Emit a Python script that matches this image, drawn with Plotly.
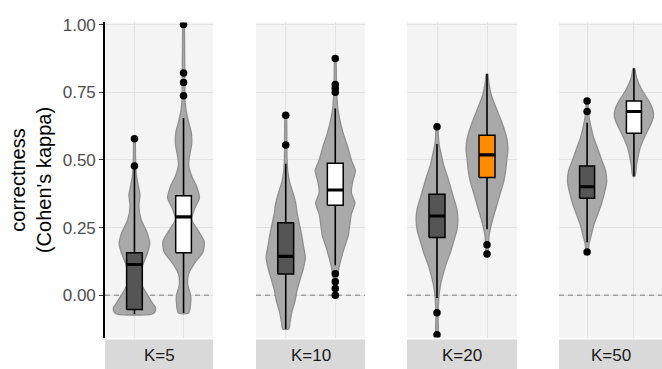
import plotly.graph_objects as go

# ---- data -------------------------------------------------------------
panels = ["K=5", "K=10", "K=20", "K=50"]
groups = [1, 2]  # two methods per panel

# box statistics per panel: [group 1, group 2]
lower_whisker = [[-0.069, -0.065], [-0.124, 0.111], [-0.010, 0.244], [0.196, 0.440]]
q1 = [[-0.052, 0.157], [0.079, 0.333], [0.214, 0.435], [0.359, 0.599]]
median = [[0.114, 0.290], [0.144, 0.389], [0.293, 0.519], [0.401, 0.679]]
q3 = [[0.157, 0.368], [0.268, 0.488], [0.373, 0.591], [0.478, 0.718]]
upper_whisker = [[0.470, 0.655], [0.486, 0.690], [0.559, 0.818], [0.637, 0.839]]
outliers = [
    [[0.578, 0.478], [1.0, 0.821, 0.786, 0.737]],
    [[0.665, 0.555], [0.875, 0.779, 0.764, 0.750, 0.080, 0.050, 0.025, 0.0]],
    [[0.623, -0.064, -0.145], [0.187, 0.153]],
    [[0.718, 0.679, 0.160], []],
]

# violin outlines: kappa levels and relative density at each level
violin_y = [
    [
        [0.578, 0.50, 0.45, 0.41, 0.37, 0.33, 0.28, 0.23, 0.19, 0.15, 0.11, 0.07, 0.04, 0.0, -0.03, -0.045, -0.06, -0.069],
        [1.0, 0.9, 0.8, 0.72, 0.68, 0.64, 0.60, 0.56, 0.52, 0.48, 0.44, 0.40, 0.36, 0.32, 0.28, 0.24, 0.20, 0.16, 0.12, 0.08, 0.04, 0.0, -0.03, -0.065],
    ],
    [
        [0.665, 0.60, 0.55, 0.50, 0.46, 0.42, 0.38, 0.34, 0.30, 0.26, 0.22, 0.18, 0.14, 0.10, 0.06, 0.02, -0.02, -0.06, -0.10, -0.124],
        [0.875, 0.80, 0.75, 0.70, 0.65, 0.60, 0.55, 0.50, 0.46, 0.42, 0.38, 0.34, 0.30, 0.26, 0.22, 0.18, 0.14, 0.10, 0.06, 0.02, 0.0],
    ],
    [
        [0.623, 0.56, 0.52, 0.48, 0.44, 0.40, 0.36, 0.32, 0.28, 0.24, 0.20, 0.16, 0.12, 0.08, 0.04, 0.0, -0.04, -0.08, -0.145],
        [0.818, 0.78, 0.74, 0.70, 0.66, 0.62, 0.58, 0.54, 0.50, 0.46, 0.42, 0.38, 0.34, 0.30, 0.26, 0.22, 0.18, 0.153],
    ],
    [
        [0.718, 0.66, 0.62, 0.58, 0.54, 0.50, 0.46, 0.42, 0.38, 0.34, 0.30, 0.26, 0.22, 0.19, 0.16],
        [0.839, 0.80, 0.76, 0.72, 0.69, 0.66, 0.63, 0.60, 0.57, 0.54, 0.51, 0.48, 0.44],
    ],
]
violin_density = [
    [
        [0.04, 0.05, 0.08, 0.16, 0.25, 0.20, 0.30, 0.58, 0.69, 0.56, 0.37, 0.28, 0.32, 0.60, 0.83, 0.95, 0.93, 0.79],
        [0.04, 0.05, 0.06, 0.07, 0.12, 0.23, 0.35, 0.37, 0.28, 0.23, 0.37, 0.60, 0.72, 0.50, 0.37, 0.65, 0.93, 0.88, 0.51, 0.23, 0.19, 0.32, 0.32, 0.23],
    ],
    [
        [0.04, 0.05, 0.05, 0.06, 0.09, 0.17, 0.32, 0.45, 0.52, 0.62, 0.72, 0.80, 0.88, 0.79, 0.65, 0.51, 0.42, 0.28, 0.19, 0.14],
        [0.04, 0.05, 0.07, 0.10, 0.20, 0.35, 0.55, 0.72, 0.90, 0.78, 0.72, 0.88, 0.72, 0.65, 0.58, 0.42, 0.28, 0.16, 0.09, 0.05, 0.04],
    ],
    [
        [0.04, 0.09, 0.19, 0.30, 0.46, 0.60, 0.74, 0.88, 0.93, 0.88, 0.74, 0.60, 0.42, 0.28, 0.16, 0.09, 0.06, 0.05, 0.04],
        [0.04, 0.09, 0.19, 0.37, 0.56, 0.74, 0.88, 0.93, 0.88, 0.83, 0.74, 0.60, 0.46, 0.32, 0.19, 0.09, 0.06, 0.04],
    ],
    [
        [0.04, 0.09, 0.19, 0.32, 0.51, 0.69, 0.88, 0.93, 0.83, 0.69, 0.51, 0.32, 0.19, 0.09, 0.04],
        [0.04, 0.14, 0.37, 0.69, 0.88, 0.93, 0.79, 0.60, 0.42, 0.28, 0.19, 0.12, 0.05],
    ],
]

y_ticks = [0.0, 0.25, 0.50, 0.75, 1.00]
y_tick_labels = ["0.00", "0.25", "0.50", "0.75", "1.00"]
box_fill = [["#555555", "#ffffff"], ["#555555", "#ffffff"], ["#555555", "#ff8c00"], ["#555555", "#ffffff"]]

# ---- styling ----------------------------------------------------------
W, H = 662, 369
VIOLIN_HALF = 0.45      # half of ggplot's default violin width
BOX_WIDTH = 0.32
panel_px = [(105, 213), (256, 365), (407, 517), (559, 662)]
panel_top_px, panel_bottom_px = 15.7, 337
strip_top_px = 339
FONT = "Liberation Sans, Arial, sans-serif"
PANEL_BG = "#f4f4f4"
GRID = "#e2e2e2"

fig = go.Figure()


def add(trace, xa, ya):
    trace.update(hoverinfo="skip", showlegend=False, xaxis=xa, yaxis=ya)
    fig.add_trace(trace)


for p, name in enumerate(panels):
    xa = "x" if p == 0 else f"x{p + 1}"
    ya = "y" if p == 0 else f"y{p + 1}"
    # dashed reference line at kappa = 0
    add(go.Scatter(x=[0.4, 2.6], y=[0, 0], mode="lines",
                   line=dict(color="#a0a0a0", width=1.5, dash="5px,4px")), xa, ya)
    for g, xpos in enumerate(groups):
        ys = violin_y[p][g]
        ds = violin_density[p][g]
        left = [xpos - d * VIOLIN_HALF for d in ds]
        right = [xpos + d * VIOLIN_HALF for d in ds]
        add(go.Scatter(
            x=left + right[::-1], y=ys + ys[::-1],
            mode="lines", fill="toself", fillcolor="#a9a9a9",
            line=dict(color="#8f8f8f", width=1.3, shape="spline", smoothing=0.7),
        ), xa, ya)
        # whiskers
        add(go.Scatter(
            x=[xpos, xpos, None, xpos, xpos],
            y=[lower_whisker[p][g], q1[p][g], None, q3[p][g], upper_whisker[p][g]],
            mode="lines", line=dict(color="#000000", width=1.6),
        ), xa, ya)
        # box from Q1 to Q3
        bl, br = xpos - BOX_WIDTH / 2, xpos + BOX_WIDTH / 2
        add(go.Scatter(
            x=[bl, br, br, bl, bl],
            y=[q1[p][g], q1[p][g], q3[p][g], q3[p][g], q1[p][g]],
            mode="lines", fill="toself", fillcolor=box_fill[p][g],
            line=dict(color="#000000", width=1.5),
        ), xa, ya)
        # median bar
        add(go.Scatter(
            x=[bl, br], y=[median[p][g], median[p][g]],
            mode="lines", line=dict(color="#000000", width=3.2),
        ), xa, ya)
        if outliers[p][g]:
            add(go.Scatter(
                x=[xpos] * len(outliers[p][g]), y=outliers[p][g],
                mode="markers", marker=dict(color="#000000", size=7.5),
            ), xa, ya)

y_dom = [(H - panel_bottom_px) / H, (H - panel_top_px) / H]
layout = dict(
    width=W, height=H, margin=dict(l=0, r=0, t=0, b=0),
    paper_bgcolor="#ffffff", plot_bgcolor=PANEL_BG,
    font=dict(family=FONT, color="#1a1a1a"),
    showlegend=False,
)
shapes = []
annotations = []
for p, name in enumerate(panels):
    x0, x1 = panel_px[p]
    dom = [x0 / W, min(x1 / W, 1.0)]
    key = "" if p == 0 else str(p + 1)
    layout["xaxis" + key] = dict(
        domain=dom, range=[0.4, 2.6], tickvals=groups, showticklabels=False,
        showgrid=True, gridcolor=GRID, gridwidth=1.3, zeroline=False, ticks="",
        anchor="y" + key, fixedrange=True,
    )
    ycfg = dict(
        domain=y_dom, range=[-0.156, 1.008], tickvals=y_ticks, ticktext=y_tick_labels,
        showgrid=True, gridcolor=GRID, gridwidth=1.3, zeroline=False,
        anchor="x" + key, fixedrange=True,
    )
    if p == 0:
        ycfg.update(
            showline=True, linecolor="#000000", linewidth=1.6,
            ticks="outside", ticklen=4, tickcolor="#333333", tickwidth=1.2,
            tickfont=dict(size=17, color="#4d4d4d", family=FONT),
            title=dict(text="correctness<br>(Cohen's kappa)", standoff=6,
                       font=dict(size=20, color="#000000", family=FONT)),
        )
    else:
        ycfg.update(showticklabels=False, ticks="", matches="y")
    layout["yaxis" + key] = ycfg

    # strip label box under each panel
    shapes.append(dict(
        type="rect", xref="paper", yref="paper", x0=dom[0], x1=dom[1],
        y0=-0.05, y1=(H - strip_top_px) / H,
        fillcolor="#d9d9d9", line=dict(width=0), layer="above",
    ))
    annotations.append(dict(
        text=name, xref="paper", yref="paper", x=(x0 + x1) / 2 / W, y=(H - 355) / H,
        showarrow=False, font=dict(size=17, color="#1a1a1a", family=FONT),
        xanchor="center", yanchor="middle",
    ))

layout["shapes"] = shapes
layout["annotations"] = annotations
fig.update_layout(**layout)
fig.write_html("out.html")
